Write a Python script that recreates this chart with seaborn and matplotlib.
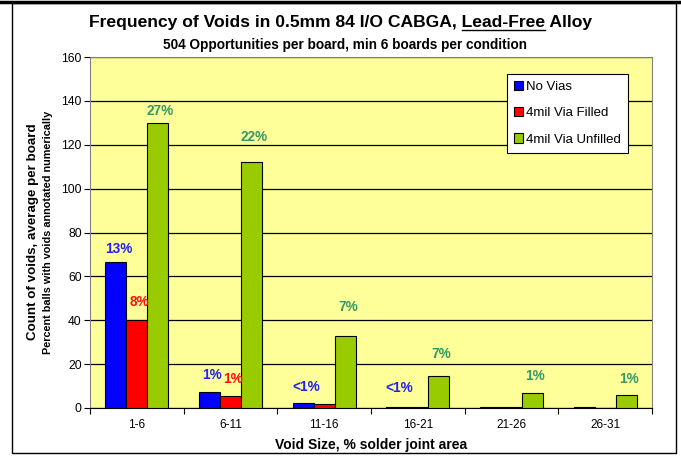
import seaborn as sns
import matplotlib.pyplot as plt
import pandas as pd
from matplotlib.lines import Line2D
from matplotlib.patches import Rectangle

# data
categories = ['1-6', '6-11', '11-16', '16-21', '21-26', '26-31']
series = ['No Vias', '4mil Via Filled', '4mil Via Unfilled']
no_vias = [66.5, 7.3, 2.3, 0.6, 0.3, 0.4]
via_filled = [40, 5.5, 1.6, 0.3, 0.6, 0.2]
via_unfilled = [130, 112, 33, 14.7, 7, 5.7]

# percent annotations per series ('' = none)
no_vias_pct = ['13%', '1%', '<1%', '<1%', '', '']
via_filled_pct = ['8%', '1%', '', '', '', '']
via_unfilled_pct = ['27%', '22%', '7%', '7%', '1%', '1%']

df = pd.DataFrame({
    'Void Size': categories * 3,
    'Series': [s for s in series for _ in categories],
    'Count': no_vias + via_filled + via_unfilled,
})

colors = {'No Vias': '#0000FF', '4mil Via Filled': '#FF0000', '4mil Via Unfilled': '#99CC00'}
text_colors = ['#2222EE', '#FF1111', '#339966']
# how far above the bar each label sits (data units), as placed in the original
label_lift = [[6, 7.7, 7.3, 8.5, 0, 0],
              [8.4, 7.7, 0, 0, 0, 0],
              [5.6, 11.7, 13, 10, 7.6, 7.7]]

plt.rcParams['font.family'] = ['Liberation Sans', 'DejaVu Sans']

fig = plt.figure(figsize=(6.81, 4.59), dpi=100)
ax = fig.add_axes([90 / 681, 1 - 408 / 459, 562 / 681, 351 / 459])
ax.set_facecolor('#FFFF99')

sns.barplot(data=df, x='Void Size', y='Count', hue='Series', palette=colors,
            width=0.67, saturation=1, edgecolor='black', linewidth=0.8,
            errorbar=None, ax=ax, zorder=3)

ax.set_ylim(0, 160)
ax.set_xlim(-0.5, 5.5)
ax.set_yticks(range(0, 161, 20))
ax.yaxis.grid(True, color='black', linewidth=0.9, zorder=0)
ax.set_axisbelow(True)
ax.tick_params(axis='y', direction='out', length=4, width=0.8, labelsize=8.7, pad=2)
ax.tick_params(axis='x', which='major', length=0, labelsize=8.5, pad=8)
ax.set_xticks([i + 0.5 for i in range(-1, 6)], minor=True)
ax.tick_params(axis='x', which='minor', direction='out', length=4, width=0.8)
for side in ['top', 'right']:
    ax.spines[side].set_color('#808080')
ax.spines['left'].set_color('#808080')
ax.spines['bottom'].set_color('black')

ax.set_xlabel('Void Size, % solder joint area', fontsize=10, fontweight='bold', labelpad=5)
ax.set_ylabel('')

# percent labels
pct = [no_vias_pct, via_filled_pct, via_unfilled_pct]
for k, cont in enumerate(ax.containers):
    for i, bar in enumerate(cont):
        if not pct[k][i]:
            continue
        ax.text(bar.get_x() + bar.get_width() / 2 + 0.03, bar.get_height() + label_lift[k][i],
                pct[k][i], ha='center', va='center', fontsize=9.8, fontweight='bold',
                color=text_colors[k], zorder=4)

handles, labels = ax.get_legend_handles_labels()
leg = ax.legend(handles, labels, loc='upper right', bbox_to_anchor=(0.957, 0.952),
                borderaxespad=0, fontsize=9.5, frameon=True, fancybox=False,
                edgecolor='black', framealpha=1, handlelength=0.7, handleheight=0.7,
                handletextpad=0.2, labelspacing=1.05, borderpad=0.55)
leg.get_frame().set_linewidth(0.8)

# y axis titles (two lines)
fig.text(33 / 681, 1 - 232 / 459, 'Count of voids, average per board', rotation=90,
         ha='center', va='center', fontsize=9.6, fontweight='bold')
fig.text(48 / 681, 1 - 232 / 459, 'Percent balls with voids annotated numerically', rotation=90,
         ha='center', va='center', fontsize=7.8, fontweight='bold')

# title with underlined "Lead-Free"
part1 = 'Frequency of Voids in 0.5mm 84 I/O CABGA, '
part2 = 'Lead-Free'
part3 = ' Alloy'
tfont = dict(fontsize=12.6, fontweight='bold')
title = fig.text(0.5, 1 - 23 / 459, part1 + part2 + part3, ha='center', va='center', **tfont)
fig.text(0.507, 1 - 45 / 459, '504 Opportunities per board, min 6 boards per condition',
         ha='center', va='center', fontsize=9.8, fontweight='bold')

renderer = fig.canvas.get_renderer()
tb = title.get_window_extent(renderer)
tmp1 = fig.text(0, 0, part1, **tfont)
tmp2 = fig.text(0, 0, part1 + part2, **tfont)
w1 = tmp1.get_window_extent(renderer).width
w2 = tmp2.get_window_extent(renderer).width
tmp1.remove()
tmp2.remove()
W, H = fig.bbox.width, fig.bbox.height
uy = (tb.y0 + 0.5) / H
fig.add_artist(Line2D([(tb.x0 + w1) / W, (tb.x0 + w2) / W], [uy, uy],
                      color='black', linewidth=1.0, transform=fig.transFigure))

# outer frame
fig.add_artist(Rectangle((12 / 681, 1 - 453 / 459), 664 / 681, 450 / 459,
                         fill=False, edgecolor='black', linewidth=1.0,
                         transform=fig.transFigure))
fig.add_artist(Line2D([0, 1], [1 - 1.5 / 459, 1 - 1.5 / 459], color='black',
                      linewidth=2.5, transform=fig.transFigure))

fig.savefig('out.png', dpi=100)
